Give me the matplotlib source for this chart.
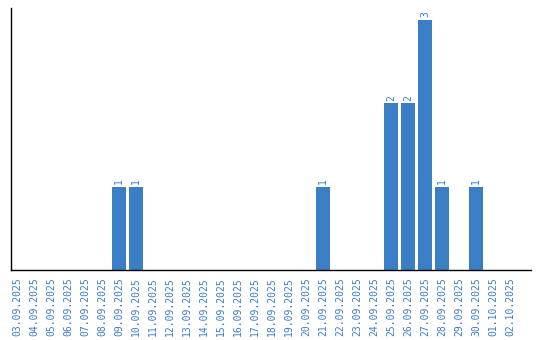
import matplotlib
matplotlib.use("Agg")
import matplotlib.pyplot as plt

dates = ["03.09.2025","04.09.2025","05.09.2025","06.09.2025","07.09.2025","08.09.2025",
         "09.09.2025","10.09.2025","11.09.2025","12.09.2025","13.09.2025","14.09.2025",
         "15.09.2025","16.09.2025","17.09.2025","18.09.2025","19.09.2025","20.09.2025",
         "21.09.2025","22.09.2025","23.09.2025","24.09.2025","25.09.2025","26.09.2025",
         "27.09.2025","28.09.2025","29.09.2025","30.09.2025","01.10.2025","02.10.2025"]
values = [0,0,0,0,0,0,1,1,0,0,0,0,0,0,0,0,0,0,1,0,0,0,2,2,3,1,0,1,0,0]

color = "#3a7fc4"
fig = plt.figure(figsize=(5.4, 3.4), dpi=100)
ax = fig.add_axes([11/540, 70/340, 520/540, 262/340])
x = list(range(len(dates)))
bars = ax.bar(x, values, width=0.82, color=color)
for xi, v in zip(x, values):
    if v > 0:
        ax.text(xi, v + 0.03, str(v), rotation=90, ha="center", va="bottom",
                color=color, fontsize=7, family="DejaVu Sans Mono")
ax.set_xlim(-0.35, 30.24)
ax.set_ylim(0, 3.14)
ax.set_xticks(x)
ax.set_xticklabels(dates, rotation=90, color=color, fontsize=7, family="DejaVu Sans Mono")
ax.tick_params(axis="x", length=0, pad=5)
ax.set_yticks([])
for s in ["top", "right"]:
    ax.spines[s].set_visible(False)
ax.spines["left"].set_linewidth(1)
ax.spines["bottom"].set_linewidth(1)
fig.savefig("out.png", dpi=100)
